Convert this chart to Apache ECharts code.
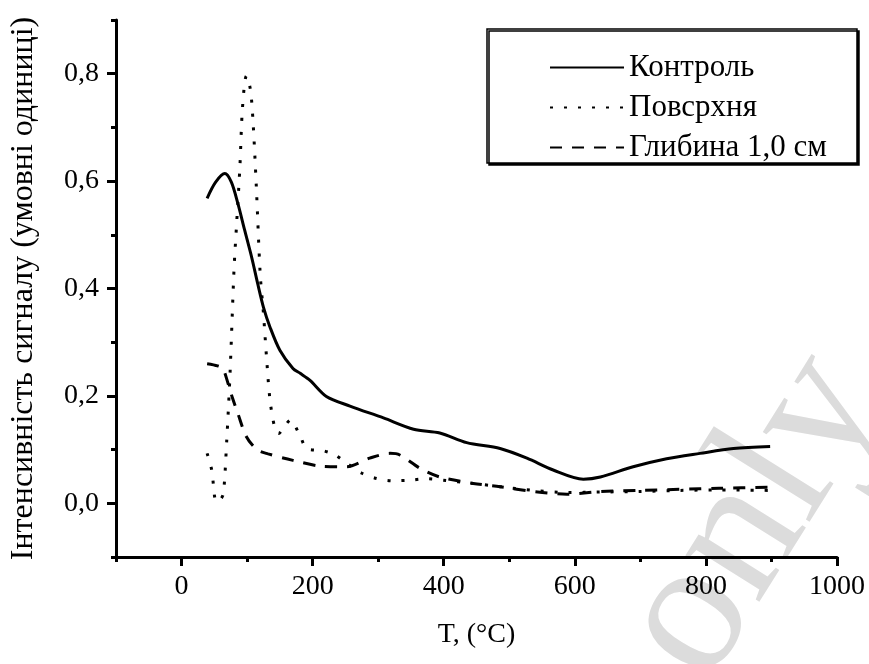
<!DOCTYPE html>
<html>
<head>
<meta charset="utf-8">
<title>Інтенсивність сигналу</title>
<script src="https://cdn.jsdelivr.net/npm/echarts@6/dist/echarts.min.js"></script>
<style>
    html, body { margin: 0; padding: 0; background: #fff; }
    #main { width: 869px; height: 664px; }
</style>
</head>
<body>
<div id="main"></div>
<script>
// назви кривих
var seriesNames = ['Контроль', 'Повсрхня', 'Глибина 1,0 см'];

// Контроль (суцільна)
var tControl = [39, 52, 66, 76, 86, 96, 107, 116, 125, 135, 150, 170, 181, 196, 221, 257, 308, 354, 394, 435, 486, 527, 567, 613, 639, 689, 740, 791, 842, 898];
var vControl = [0.568, 0.598, 0.614, 0.598, 0.558, 0.510, 0.458, 0.410, 0.365, 0.328, 0.285, 0.251, 0.242, 0.229, 0.199, 0.181, 0.159, 0.138, 0.131, 0.113, 0.102, 0.084, 0.062, 0.045, 0.049, 0.068, 0.083, 0.093, 0.102, 0.106];

// Повсрхня (пунктир)
var tSurface = [39, 46, 53, 60, 64, 69, 74, 80, 84, 89, 93, 99, 105, 109, 114, 120, 125, 130, 135, 142, 148, 158, 166, 181, 191, 216, 234, 255, 275, 298, 323, 349, 374, 399, 445, 486, 537, 588, 640, 700, 760, 820, 898];
var vSurface = [0.093, 0.062, 0.003, 0.008, 0.019, 0.118, 0.242, 0.434, 0.520, 0.626, 0.737, 0.796, 0.771, 0.712, 0.592, 0.427, 0.353, 0.266, 0.192, 0.142, 0.130, 0.145, 0.155, 0.125, 0.102, 0.098, 0.090, 0.072, 0.056, 0.046, 0.042, 0.043, 0.046, 0.043, 0.037, 0.031, 0.024, 0.020, 0.021, 0.022, 0.024, 0.025, 0.024];

// Глибина 1,0 см (штрихова)
var tDepth = [39, 55, 63, 71, 78, 86, 99, 115, 132, 170, 214, 252, 287, 318, 333, 364, 394, 445, 486, 537, 588, 640, 700, 760, 820, 898];
var vDepth = [0.260, 0.256, 0.251, 0.223, 0.195, 0.167, 0.124, 0.100, 0.092, 0.080, 0.069, 0.068, 0.084, 0.093, 0.090, 0.065, 0.049, 0.037, 0.031, 0.022, 0.017, 0.022, 0.024, 0.026, 0.028, 0.030];

// поділки осей
var xMajor = [0, 200, 400, 600, 800, 1000];
var xMinor = [-100, 100, 300, 500, 700, 900];
var yMajor = [0, 0.2, 0.4, 0.6, 0.8];
var yMinor = [-0.1, 0.1, 0.3, 0.5, 0.7, 0.9];

function zip(xs, ys) {
    var out = [];
    for (var i = 0; i < xs.length; i++) out.push([xs[i], ys[i]]);
    return out;
}

var FONT = 'Liberation Serif';
var myChart = echarts.init(document.getElementById('main'));

// основна вісь з підписами + додаткова лише для дрібних поділок
function makeAxis(min, max, major, minor, isY, name) {
    return [{
        type: 'value', min: min, max: max,
        position: isY ? 'left' : 'bottom',
        name: name, nameLocation: 'middle',
        nameGap: isY ? 76 : 64,
        nameTextStyle: { fontFamily: FONT, fontSize: isY ? 32 : 28, color: '#000' },
        axisLine: { show: true, onZero: false, lineStyle: { color: '#000', width: 3 } },
        axisTick: { show: true, inside: false, length: 9, customValues: major, lineStyle: { color: '#000', width: 3 } },
        axisLabel: {
            customValues: major, margin: isY ? 17 : 16,
            fontFamily: FONT, fontSize: 28, color: '#000',
            formatter: function (v) { return isY ? v.toFixed(1).replace('.', ',') : String(v); }
        },
        splitLine: { show: false }
    }, {
        type: 'value', min: min, max: max,
        position: isY ? 'left' : 'bottom',
        axisLine: { show: false, onZero: false },
        axisTick: { show: true, inside: false, length: 5, customValues: minor, lineStyle: { color: '#000', width: 3 } },
        axisLabel: { show: false },
        splitLine: { show: false }
    }];
}

var xAxes = makeAxis(-100, 1000, xMajor, xMinor, false, 'T, (°C)');
var yAxes = makeAxis(-0.1, 0.9, yMajor, yMinor, true, 'Інтенсивність сигналу (умовні одиниці)');

myChart.setOption({
    backgroundColor: '#fff',
    animation: false,
    grid: { left: 115, right: 32, top: 20, bottom: 107 },
    xAxis: xAxes,
    yAxis: yAxes,
    legend: {
        orient: 'vertical',
        left: 487, top: 29,
        padding: [23, 30, 0, 62],
        itemWidth: 74, itemHeight: 14, itemGap: 9,
        backgroundColor: '#fff',
        borderColor: '#000', borderWidth: 1.5,
        shadowColor: '#000', shadowOffsetX: 2, shadowOffsetY: 2, shadowBlur: 0,
        itemStyle: { opacity: 0 },
        lineStyle: { width: 2 },
        textStyle: { fontFamily: FONT, fontSize: 31, color: '#000', lineHeight: 28 },
        data: seriesNames
    },
    graphic: [{
        type: 'text', z: -10, silent: true,
        x: 745, y: 710, rotation: 58 * Math.PI / 180,
        style: { text: 'only.', font: '190px "Liberation Serif"', fill: '#dcdcdc', verticalAlign: 'bottom' }
    }],
    series: [{
        name: seriesNames[0], type: 'line', symbol: 'none', smooth: 0.3,
        lineStyle: { color: '#000', width: 3, type: 'solid' },
        itemStyle: { color: '#000' },
        data: zip(tControl, vControl)
    }, {
        name: seriesNames[1], type: 'line', symbol: 'none', smooth: 0.3,
        lineStyle: { color: '#000', width: 3, type: [3, 11] },
        itemStyle: { color: '#000' },
        data: zip(tSurface, vSurface)
    }, {
        name: seriesNames[2], type: 'line', symbol: 'none', smooth: 0.3,
        lineStyle: { color: '#000', width: 3, type: [12, 10] },
        itemStyle: { color: '#000' },
        data: zip(tDepth, vDepth)
    }]
});
</script>
</body>
</html>
